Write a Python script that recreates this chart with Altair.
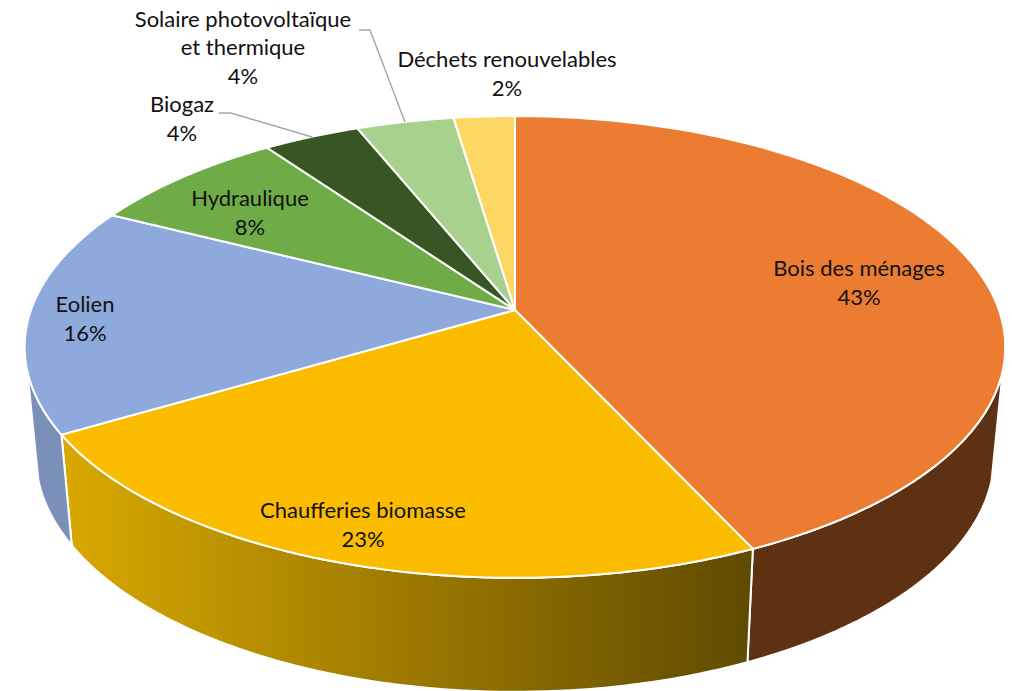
import math
import altair as alt
import pandas as pd

# Data
categories = ["Bois des ménages", "Chaufferies biomasse", "Eolien", "Hydraulique",
              "Biogaz", "Solaire photovoltaïque et thermique", "Déchets renouvelables"]
shares = [43.1, 23.4, 15.95, 7.72, 3.73, 3.75, 2.35]
top_colours = ["#EB7C31", "#FBBC00", "#8EA9DB", "#6FAC47", "#375623", "#A9D18E", "#FDD764"]
label_lines = [
    ["Bois des ménages", "43%"], ["Chaufferies biomasse", "23%"], ["Eolien", "16%"],
    ["Hydraulique", "8%"], ["Biogaz", "4%"], ["Solaire photovoltaïque", "et thermique", "4%"],
    ["Déchets renouvelables", "2%"],
]
label_x = [859, 363, 85, 250, 182, 243, 507]
label_y = [[269, 298], [511, 540], [305, 334], [199, 228], [105, 134], [20, 48, 77], [60, 89]]
leader_biogaz = [(219, 113), (231, 113), (312, 137)]
leader_solaire = [(359, 30), (370, 30), (405, 122)]

# Perspective of the pie disc
CX = 515
TOP = dict(cy=310, a=484, b=225, k=0.16)
BOT = dict(cy=418, a=473, b=230, k=0.16)
W, H = 996, 683  # plot size; page margin is 8px


def project(theta_pct, d):
    t = math.radians(theta_pct * 3.6)
    u, v = math.sin(t), math.cos(t)
    w = 1 + d["k"] * v
    return CX + d["a"] * u / w, d["cy"] - d["b"] * v / w


def arc(p0, p1, d, n=70):
    return [project(p0 + (p1 - p0) * i / n, d) for i in range(n + 1)]


def sections(poly):
    """Turn a polygon into (x, upper, lower) rows so mark_area can draw it."""
    xs = sorted({round(p[0], 2) for p in poly})
    rows = []
    m = len(poly)
    for x in xs:
        ys = []
        for i in range(m):
            (x0, y0), (x1, y1) = poly[i], poly[(i + 1) % m]
            lo, hi = min(x0, x1), max(x0, x1)
            if lo - 0.006 <= x <= hi + 0.006:
                if abs(x1 - x0) < 1e-6:
                    ys += [y0, y1]
                else:
                    f = min(1, max(0, (x - x0) / (x1 - x0)))
                    ys.append(y0 + (y1 - y0) * f)
        if ys:
            rows.append({"x": x, "y": min(ys), "y2": max(ys)})
    return pd.DataFrame(rows)


x_scale = alt.Scale(domain=[8, 8 + W], range=[0, W], nice=False, zero=False)
y_scale = alt.Scale(domain=[8, 8 + H], range=[0, H], nice=False, zero=False)
X = alt.X("x:Q", scale=x_scale, axis=None)
Y = alt.Y("y:Q", scale=y_scale, axis=None, stack=None)
Y2 = alt.Y2("y2:Q")


def area(poly, fill, sw=2):
    return alt.Chart(sections(poly)).mark_area(
        fill=fill, stroke="white", strokeWidth=sw, strokeJoin="round", opacity=1
    ).encode(x=X, y=Y, y2=Y2)


def hgrad(c0, c1):
    return alt.Gradient(gradient="linear", x1=0, x2=1, y1=0, y2=0,
                        stops=[alt.GradientStop(color=c0, offset=0),
                               alt.GradientStop(color=c1, offset=1)])


cum = [0]
for s in shares:
    cum.append(cum[-1] + s)

layers = []
# Side walls of the three front slices
wall_spec = [
    (105 / 3.6, cum[1], "#5F3113"),
    (cum[1], cum[2], hgrad("#D9A900", "#5F4A00")),
    (cum[2], 255 / 3.6, "#7B90B9"),
]
for p0, p1, fill in wall_spec:
    poly = arc(p0, p1, TOP) + arc(p0, p1, BOT)[::-1]
    layers.append(area(poly, fill))

# Top faces
centre = (CX, TOP["cy"])
for i, c in enumerate(top_colours):
    poly = [centre] + arc(cum[i], cum[i + 1], TOP)
    layers.append(area(poly, c))

# Leader lines
for leader in (leader_biogaz, leader_solaire):
    df = pd.DataFrame({"x": [p[0] for p in leader], "y": [p[1] for p in leader],
                       "o": list(range(len(leader)))})
    layers.append(alt.Chart(df).mark_line(color="#A6A6A6", strokeWidth=1.4).encode(
        x=X, y=Y, order="o:O"))

# Labels
rows = []
for lines, lx, lys in zip(label_lines, label_x, label_y):
    for t, ly in zip(lines, lys):
        rows.append({"x": lx, "y": ly, "t": t})
layers.append(alt.Chart(pd.DataFrame(rows)).mark_text(
    font="Lato", fontSize=22, color="#111111", align="center", baseline="middle"
).encode(x=X, y=Y, text="t:N"))

chart = alt.layer(*layers).properties(
    width=W, height=H, padding=0, autosize=alt.AutoSizeParams(type="none")
).configure_view(stroke=None)
chart.save("out.html", embed_options={"renderer": "svg", "actions": False})
